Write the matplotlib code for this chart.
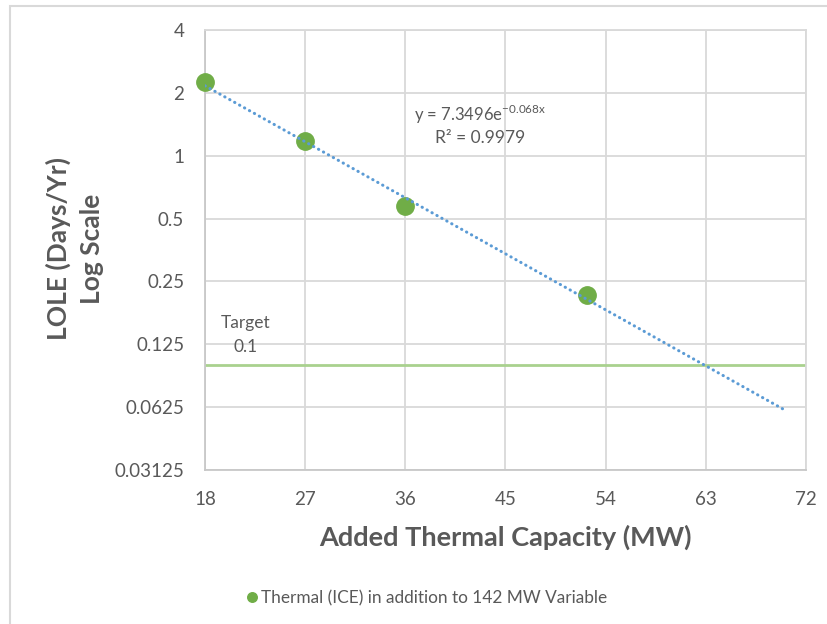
import numpy as np
import matplotlib
matplotlib.use("Agg")
import matplotlib.pyplot as plt
from matplotlib.patches import Rectangle
from matplotlib.ticker import FixedLocator, FixedFormatter, NullLocator

plt.rcParams['font.family'] = ['Lato', 'DejaVu Sans']

# Data
capacity_mw = [18, 27, 36, 52.3]
lole_days = [2.25, 1.17, 0.575, 0.215]
target_lole = 0.1
x_ticks = [18, 27, 36, 45, 54, 63, 72]
y_ticks = [0.03125, 0.0625, 0.125, 0.25, 0.5, 1, 2, 4]
y_tick_labels = ["0.03125", "0.0625", "0.125", "0.25", "0.5", "1", "2", "4"]
trend_x_end = 70
equation_text = r"y = 7.3496e$^{\mathregular{-0.068x}}$"
r2_text = "R² = 0.9979"
series_label = "Thermal (ICE) in addition to 142 MW Variable"

TXT = "#595959"
GRID = "#d9d9d9"

fig = plt.figure(figsize=(8.28, 6.24), dpi=100)
W, H = 828, 624
ax = fig.add_axes([205 / W, 1 - 470 / H, (806 - 205) / W, (470 - 30) / H])

ax.set_yscale('log', base=2)
ax.set_xlim(18, 72)
ax.set_ylim(0.03125, 4)
ax.xaxis.set_major_locator(FixedLocator(x_ticks))
ax.yaxis.set_major_locator(FixedLocator(y_ticks))
ax.yaxis.set_major_formatter(FixedFormatter(y_tick_labels))
ax.yaxis.set_minor_locator(NullLocator())
ax.grid(True, color=GRID, lw=1.3, zorder=0)
for s in ax.spines.values():
    s.set_color(GRID)
    s.set_linewidth(1.3)
ax.spines['left'].set_color("#c8c8c8")
ax.spines['bottom'].set_color("#c8c8c8")
ax.tick_params(length=0, labelsize=13.5, labelcolor=TXT)
ax.tick_params(axis='y', pad=15)
ax.tick_params(axis='x', pad=15)

# Target line
ax.axhline(target_lole, color="#a9d18e", lw=2.0, zorder=2)

# Exponential trendline fitted to the points
b, ln_a = np.polyfit(capacity_mw, np.log(lole_days), 1)
tx = np.linspace(capacity_mw[0], trend_x_end, 200)
ax.plot(tx, np.exp(ln_a) * np.exp(b * tx), color="#5b9bd5", lw=2.2,
        linestyle=(0, (0.1, 1.75)), dash_capstyle='round', zorder=4)

ax.plot(capacity_mw, lole_days, 'o', color="#70ad47", ms=12.5, mec="#70ad47",
        zorder=3, label=series_label, clip_on=False)

ax.text(0.4576, 0.807, equation_text, transform=ax.transAxes, ha='center',
        va='center', fontsize=12, color=TXT)
ax.text(0.4576, 0.7545, r2_text, transform=ax.transAxes, ha='center',
        va='center', fontsize=12.5, color=TXT)
ax.text(0.068, 0.335, "Target", transform=ax.transAxes, ha='center',
        va='center', fontsize=12.5, color=TXT)
ax.text(0.068, 0.28, "0.1", transform=ax.transAxes, ha='center',
        va='center', fontsize=12.5, color=TXT)

fig.text(58 / W, 1 - 249 / H, "LOLE (Days/Yr)", rotation=90, ha='center',
         va='center', fontsize=19, fontweight='bold', color=TXT)
fig.text(92 / W, 1 - 249 / H, "Log Scale", rotation=90, ha='center',
         va='center', fontsize=19, fontweight='bold', color=TXT)
fig.text(505 / W, 1 - 537 / H, "Added Thermal Capacity (MW)", ha='center',
         va='center', fontsize=19.5, fontweight='bold', color=TXT)

leg = fig.legend(loc='center', bbox_to_anchor=(425 / W, 1 - 598 / H),
                 frameon=False, fontsize=12.4, handletextpad=0.0,
                 handlelength=1.0, markerscale=0.55, labelcolor=TXT)

fig.patches.append(Rectangle((10 / W, -0.1), 1.2, 1.1 - 6 / H, transform=fig.transFigure,
                             fill=False, ec="#d9d9d9", lw=1.5))

fig.savefig("out.png", dpi=100)
